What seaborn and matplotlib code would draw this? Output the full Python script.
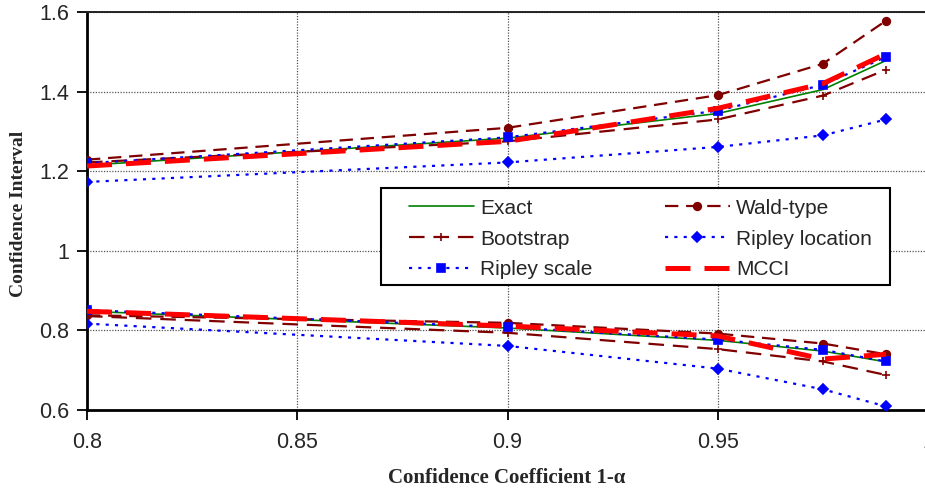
import numpy as np
import pandas as pd
import matplotlib as mpl
mpl.use('Agg')
import matplotlib.pyplot as plt
from matplotlib.patches import Rectangle
import seaborn as sns

# confidence coefficients where the intervals were computed
coef = [0.8, 0.9, 0.95, 0.975, 0.99]

# upper / lower limits per method
exact_up = [1.215, 1.283, 1.345, 1.405, 1.478]
exact_lo = [0.848, 0.806, 0.775, 0.748, 0.721]
wald_up = [1.229, 1.309, 1.391, 1.470, 1.578]
wald_lo = [0.838, 0.819, 0.792, 0.767, 0.740]
boot_up = [1.222, 1.275, 1.330, 1.390, 1.455]
boot_lo = [0.836, 0.794, 0.753, 0.722, 0.688]
rloc_up = [1.173, 1.222, 1.261, 1.290, 1.330]
rloc_lo = [0.817, 0.761, 0.704, 0.652, 0.609]
rscale_up = [1.220, 1.285, 1.352, 1.417, 1.487]
rscale_lo = [0.851, 0.808, 0.777, 0.751, 0.722]
mcci_up = [1.213, 1.275, 1.358, 1.420, 1.495]
mcci_lo = [0.848, 0.811, 0.786, 0.728, 0.740]

x_ticks = [0.8, 0.85, 0.9, 0.95, 1.0]
x_ticklabels = ['0.8', '0.85', '0.9', '0.95', '1']
y_ticks = [0.6, 0.8, 1.0, 1.2, 1.4, 1.6]
y_ticklabels = ['0.6', '0.8', '1', '1.2', '1.4', '1.6']

sns.set_style('white')
plt.rcParams['font.family'] = ['Liberation Sans', 'DejaVu Sans']

fig = plt.figure(figsize=(9.25, 4.95), dpi=100)
ax = fig.add_axes([87 / 925, 1 - 410 / 495, 841 / 925, 398 / 495])

# name -> (upper, lower, style)
series = [
    ('Exact', exact_up, exact_lo,
     dict(color='#008000', linewidth=1.2, linestyle='-')),
    ('Wald-type', wald_up, wald_lo,
     dict(color='#800000', linewidth=1.6, linestyle=(0, (6, 3.5)), marker='o', markersize=5.5)),
    ('Bootstrap', boot_up, boot_lo,
     dict(color='#800000', linewidth=1.6, linestyle=(0, (7, 4)), marker='+', markersize=6)),
    ('Ripley location', rloc_up, rloc_lo,
     dict(color='#0000FF', linewidth=1.6, linestyle=(0, (1.4, 2.8)), marker='D', markersize=5.5)),
    ('Ripley scale', rscale_up, rscale_lo,
     dict(color='#0000FF', linewidth=1.6, linestyle=(0, (1.4, 2.8)), marker='s', markersize=6)),
    ('MCCI', mcci_up, mcci_lo,
     dict(color='#FF0000', linewidth=3.6, linestyle=(0, (5, 2.8)))),
]

handles = {}
for i, (name, up, lo, kw) in enumerate(series):
    for vals in (up, lo):
        df = pd.DataFrame({'coef': coef, 'ci': vals})
        n_before = len(ax.lines)
        sns.lineplot(data=df, x='coef', y='ci', ax=ax, errorbar=None,
                     markeredgecolor=kw['color'], markeredgewidth=1.2,
                     zorder=3 + i, **kw)
        if name not in handles:
            handles[name] = ax.lines[n_before]

ax.set_xlim(0.8, 1.0)
ax.set_ylim(0.6, 1.6)
ax.set_xticks(x_ticks)
ax.set_xticklabels(x_ticklabels)
ax.set_yticks(y_ticks)
ax.set_yticklabels(y_ticklabels)
ax.set_xlabel('')
ax.set_ylabel('')
ax.tick_params(axis='both', which='major', direction='out', length=7, width=1.3,
               color='black', labelsize=15.5, left=True, bottom=True)
ax.tick_params(axis='y', pad=6)
ax.tick_params(axis='x', pad=9)
ax.grid(True, color='#555555', linestyle=(0, (1, 1.2)), linewidth=0.9, zorder=0)
ax.set_axisbelow(True)

for side in ['left', 'bottom']:
    ax.spines[side].set_color('black')
    ax.spines[side].set_linewidth(2.0)
ax.spines['top'].set_color('#222222')
ax.spines['top'].set_linewidth(1.4)
ax.spines['right'].set_color('#222222')
ax.spines['right'].set_linewidth(1.4)

# legend box drawn separately so the inner padding can match the original
ax.add_patch(Rectangle((0.3496, 0.314), 0.6052, 0.244, transform=ax.transAxes,
                       facecolor='white', edgecolor='black', linewidth=1.5,
                       zorder=19, clip_on=False))
order = ['Exact', 'Bootstrap', 'Ripley scale', 'Wald-type', 'Ripley location', 'MCCI']
leg = ax.legend([handles[n] for n in order], order, ncol=2, loc='upper left',
                bbox_to_anchor=(0.3829, 0.531), frameon=False,
                borderaxespad=0, borderpad=0,
                handlelength=3.1, handletextpad=0.3, labelspacing=0.57,
                fontsize=15, columnspacing=3.5)
leg.set_zorder(20)

fig.text(19 / 925, 1 - 214 / 495, 'Confidence Interval', rotation=90,
         ha='center', va='center', fontsize=14, fontweight='bold',
         family=['Liberation Serif', 'DejaVu Serif'])
fig.text(507 / 925, 1 - 478 / 495, 'Confidence Coefficient 1-\u03b1',
         ha='center', va='center', fontsize=15, fontweight='bold',
         family=['Liberation Serif', 'DejaVu Serif'])

fig.savefig('out.png', dpi=100)
